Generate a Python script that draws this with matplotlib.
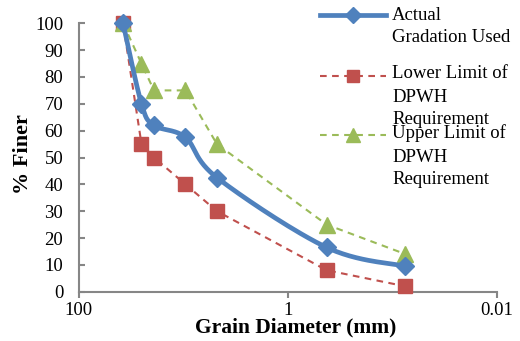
import numpy as np
import matplotlib
matplotlib.use("Agg")
import matplotlib.pyplot as plt
from matplotlib.lines import Line2D

# Sieve sizes (mm) and percent passing
sieve_mm = [37.5, 25, 19, 9.5, 4.75, 0.425, 0.075]
actual = [100, 70, 62, 57.5, 42.5, 16.5, 9.5]
lower_limit = [100, 55, 50, 40, 30, 8, 2]
upper_limit = [100, 85, 75, 75, 55, 25, 14]

x_ticks = [100, 1, 0.01]
x_tick_labels = ["100", "1", "0.01"]
y_ticks = list(range(0, 101, 10))

legend_lines = [
    ["Actual", "Gradation Used"],
    ["Lower Limit of", "DPWH", "Requirement"],
    ["Upper Limit of", "DPWH", "Requirement"],
]

BLUE = "#4F81BD"
RED = "#C0504D"
GREEN = "#9BBB59"
AXIS = "#868686"

plt.rcParams["font.family"] = ["Liberation Serif", "DejaVu Serif"]

W, H = 520, 341
fig = plt.figure(figsize=(W / 100, H / 100), dpi=100)
ax = fig.add_axes([78.5 / W, 1 - 291.7 / H, (497 - 78.5) / W, (291.7 - 23.3) / H])
ax.set_xscale("log")
ax.set_xlim(100, 0.01)
ax.set_ylim(0, 100)


def smooth(ax, xs, ys, n=30):
    """Bezier smoothing (Catmull-Rom style) computed in display space."""
    pts = ax.transData.transform(np.column_stack([xs, ys]))
    out = []
    m = len(pts)
    for i in range(m - 1):
        p0 = pts[max(i - 1, 0)]
        p1 = pts[i]
        p2 = pts[i + 1]
        p3 = pts[min(i + 2, m - 1)]
        c1 = p1 + (p2 - p0) / 6.0
        c2 = p2 - (p3 - p1) / 6.0
        t = np.linspace(0, 1, n)[:, None]
        seg = ((1 - t) ** 3) * p1 + 3 * ((1 - t) ** 2) * t * c1 + 3 * (1 - t) * t ** 2 * c2 + t ** 3 * p2
        out.append(seg if i == 0 else seg[1:])
    out = np.vstack(out)
    data = ax.transData.inverted().transform(out)
    return data[:, 0], data[:, 1]


dash = (3.2, 2.6)
ax.plot(sieve_mm, lower_limit, color=RED, lw=1.5, dashes=dash, marker="s", ms=10,
        markerfacecolor=RED, markeredgecolor=RED, clip_on=False, zorder=3)
ax.plot(sieve_mm, upper_limit, color=GREEN, lw=1.5, dashes=dash, marker="^", ms=11,
        markerfacecolor=GREEN, markeredgecolor=GREEN, clip_on=False, zorder=3)
sx, sy = smooth(ax, sieve_mm, actual)
ax.plot(sx, sy, color=BLUE, lw=3.4, clip_on=False, zorder=4, solid_capstyle="round")
ax.plot(sieve_mm, actual, ls="none", marker="D", ms=9.5, color=BLUE, clip_on=False, zorder=5)

for side in ["top", "right"]:
    ax.spines[side].set_visible(False)
for side in ["left", "bottom"]:
    ax.spines[side].set_color(AXIS)
    ax.spines[side].set_linewidth(1.5)

ax.set_xticks(x_ticks)
ax.set_xticklabels(x_tick_labels)
ax.xaxis.set_minor_locator(matplotlib.ticker.NullLocator())
ax.set_yticks(y_ticks)
ax.tick_params(axis="x", direction="out", length=4, width=1.5, color=AXIS, pad=3.5, labelsize=13.5)
ax.tick_params(axis="y", direction="in", length=4, width=1.5, color=AXIS, pad=11, labelsize=13.5)


def fy(py):
    return 1 - py / H


ax.set_xlabel("Grain Diameter (mm)", fontsize=15.5, fontweight="bold", va="baseline", ha="center")
ax.xaxis.set_label_coords(296 / W, fy(332.5), transform=fig.transFigure)
ax.set_ylabel("% Finer", fontsize=16, fontweight="bold", va="center", ha="center")
ax.yaxis.set_label_coords(23 / W, fy(154), transform=fig.transFigure)

# Legend drawn in figure pixel coordinates
handles = [
    dict(color=BLUE, lw=3.4, ls="-", marker="D", ms=8, y=15),
    dict(color=RED, lw=1.5, ls=(0, dash), marker="s", ms=9, y=76),
    dict(color=GREEN, lw=1.5, ls=(0, dash), marker="^", ms=10, y=135),
]
for h in handles:
    fig.add_artist(Line2D([320 / W, 386 / W], [fy(h["y"])] * 2, color=h["color"], lw=h["lw"],
                          ls=h["ls"], transform=fig.transFigure))
    fig.add_artist(Line2D([353 / W], [fy(h["y"])], color=h["color"], marker=h["marker"],
                          ms=h["ms"], ls="none", transform=fig.transFigure))

text_y = [[15, 38], [73, 98, 120], [133, 157, 180]]
for lines, ys in zip(legend_lines, text_y):
    for s, py in zip(lines, ys):
        fig.text(392 / W, fy(py), s, fontsize=13.5, va="center", ha="left")

fig.savefig("out.png", dpi=100)
